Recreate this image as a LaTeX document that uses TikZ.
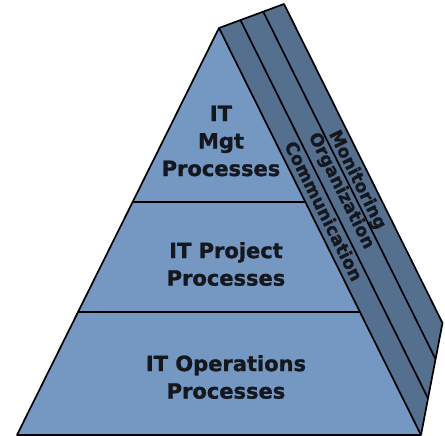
\documentclass[tikz,border=0pt]{standalone}
\usepackage{fontspec}
\setmainfont{DejaVu Sans}[BoldFeatures={FakeBold=1.2}]
\definecolor{frontcol}{HTML}{7498C2}
\definecolor{sidecol}{HTML}{55708F}
\definecolor{inkcol}{HTML}{15171F}
\begin{document}
\begin{tikzpicture}[x=1pt,y=-1pt,
  edge/.style={draw=black,line width=1.7pt,line join=round},
  layertext/.style={font=\bfseries\fontsize{21}{27.5}\selectfont,align=center,text=inkcol,inner sep=0pt},
  bandtext/.style={font=\bfseries\fontsize{17.5}{20}\selectfont,rotate=-63.6,text=inkcol,inner sep=0pt}]
\useasboundingbox (0,0) rectangle (445,436);
% main points
\coordinate (apex) at (219,28);
\coordinate (bl) at (17,435);
\coordinate (br) at (421,435);
\coordinate (t3) at (284,4);
\coordinate (b3) at (442.5,323);
\coordinate (l1a) at (285,110); \coordinate (l1b) at (334.6,210);
\coordinate (l2a) at (312,110); \coordinate (l2b) at (361.6,210);
\coordinate (t1) at (intersection of apex--t3 and l1a--l1b);
\coordinate (b1) at (intersection of br--b3 and l1a--l1b);
\coordinate (t2) at (intersection of apex--t3 and l2a--l2b);
\coordinate (b2) at (intersection of br--b3 and l2a--l2b);
\coordinate (h1a) at (0,202); \coordinate (h1b) at (445,202);
\coordinate (h2a) at (0,312); \coordinate (h2b) at (445,312);
\coordinate (d1l) at (intersection of apex--bl and h1a--h1b);
\coordinate (d1r) at (intersection of apex--br and h1a--h1b);
\coordinate (d2l) at (intersection of apex--bl and h2a--h2b);
\coordinate (d2r) at (intersection of apex--br and h2a--h2b);
% side face
\fill[sidecol] (apex) -- (t3) -- (b3) -- (br) -- cycle;
\draw[edge] (apex) -- (t3) -- (b3) -- (br);
\draw[edge] (t1) -- (b1);
\draw[edge] (t2) -- (b2);
% front face
\filldraw[fill=frontcol,edge] (apex) -- (bl) -- (br) -- cycle;
\draw[edge] (d1l) -- (d1r);
\draw[edge] (d2l) -- (d2r);
\draw[line width=2.8pt] (bl) -- (br);
% texts
\node[layertext] (mgt) at (221,141) {IT\\Mgt\\Processes};
\node[layertext] (proj) at (226,264) {IT Project\\Processes};
\node[layertext] (ops) at (226,377) {IT Operations\\Processes};
\node[bandtext] (comm) at (324,211) {Communication};
\node[bandtext] (org) at (341,191) {Organization};
\node[bandtext] (mon) at (357,180) {Monitoring};
\end{tikzpicture}
\end{document}
